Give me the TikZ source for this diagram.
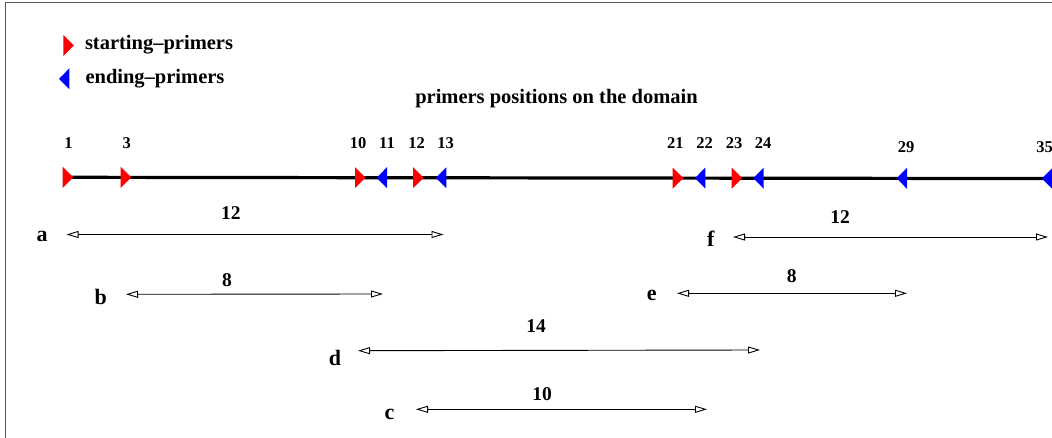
\documentclass[tikz,border=0pt]{standalone}
\usepackage{fontspec}
\setmainfont{Liberation Serif}
\usetikzlibrary{arrows.meta}
\definecolor{frame}{HTML}{555555}
\newcommand{\startmarker}[1]{\fill[startmark] (#1,{177.3+(#1-68)*0.00123-10.5}) -- ({#1+10.6},{177.3+(#1-68)*0.00123}) -- (#1,{177.3+(#1-68)*0.00123+10.5}) -- cycle;}
\newcommand{\stopmarker}[1]{\fill[endmark] ({#1+10.3},{177.3+(#1-68)*0.00123-10.5}) -- (#1,{177.3+(#1-68)*0.00123}) -- ({#1+10.3},{177.3+(#1-68)*0.00123+10.5}) -- cycle;}
\begin{document}
\begin{tikzpicture}[x=1pt,y=-1pt,
  every node/.style={inner sep=0pt,outer sep=0pt,font=\bfseries},
  legendtxt/.style={anchor=base west,font=\fontsize{20.5}{24}\selectfont\bfseries},
  titletxt/.style={anchor=base,font=\fontsize{20.5}{24}\selectfont\bfseries},
  posnum/.style={anchor=base,font=\fontsize{16.5}{19}\selectfont\bfseries},
  lennum/.style={anchor=base,font=\fontsize{19.5}{23}\selectfont\bfseries},
  letter/.style={anchor=base,font=\fontsize{22}{26}\selectfont\bfseries},
  domainline/.style={line width=3.2pt,black},
  dimarrow/.style={line width=0.9pt,black,{Triangle[open,length=12pt,width=7pt]}-{Triangle[open,length=12pt,width=7pt]}},
  startmark/.style={fill=red},
  endmark/.style={fill=blue}]
\useasboundingbox (0,0) rectangle (1052,438);
\clip (0,0) rectangle (1052,438);
\fill[white] (0,0) rectangle (1052,438);
\draw[frame,line width=1.4pt] (5.5,2.5) rectangle (1080,470);

% legend
\fill[startmark] (63.3,35) -- (74,45.5) -- (63.3,56) -- cycle;
\node[legendtxt] (lstart) at (85,50) {starting--primers};
\fill[endmark] (69.3,68.3) -- (59,79) -- (69.3,89.3) -- cycle;
\node[legendtxt] (lend) at (85.5,83.3) {ending--primers};

% title
\node[titletxt] (title) at (556.5,104) {primers positions on the domain};

% domain line
\coordinate (dstart) at (68,177.3);
\coordinate (dend) at (1062,178.6);
\draw[domainline] (dstart) -- (dend);

% markers
\startmarker{62.7}
\startmarker{120.7}
\startmarker{355}
\startmarker{413}
\startmarker{672.7}
\startmarker{731.7}
\stopmarker{376.7}
\stopmarker{436}
\stopmarker{695}
\stopmarker{753.3}
\stopmarker{896.7}
\stopmarker{1042}

% position labels
\node[posnum] (p1) at (68.5,148.3) {1};
\node[posnum] (p3) at (126.7,148.3) {3};
\node[posnum] (p10) at (358,148.3) {10};
\node[posnum] (p11) at (387,148.3) {11};
\node[posnum] (p12) at (416.7,148.3) {12};
\node[posnum] (p13) at (445.7,148.3) {13};
\node[posnum] (p21) at (675.3,148.3) {21};
\node[posnum] (p22) at (704.7,148.3) {22};
\node[posnum] (p23) at (734,148.3) {23};
\node[posnum] (p24) at (763,148.3) {24};
\node[posnum] (p29) at (906,152.3) {29};
\node[posnum] (p35) at (1044.7,152.3) {35};

% intervals
\coordinate (a1) at (66.5,234.5); \coordinate (a2) at (443.5,234.5);
\draw[dimarrow] (a1) -- (a2);
\node[letter] (la) at (42,242) {a};
\node[lennum] (na) at (230.8,219.3) {12};

\coordinate (b1) at (126,294.3); \coordinate (b2) at (383,294);
\draw[dimarrow] (b1) -- (b2);
\node[letter] (lb) at (100.7,305) {b};
\node[lennum] (nb) at (227,286.7) {8};

\coordinate (f1) at (733,237); \coordinate (f2) at (1048,237);
\draw[dimarrow] (f1) -- (f2);
\node[letter] (lf) at (710.8,247) {f};
\node[lennum] (nf) at (840,223.3) {12};

\coordinate (e1) at (677,293.3); \coordinate (e2) at (907,293.3);
\draw[dimarrow] (e1) -- (e2);
\node[letter] (le) at (651.7,300.7) {e};
\node[lennum] (ne) at (791.7,283) {8};

\coordinate (d1) at (358,350.7); \coordinate (d2) at (760,350);
\draw[dimarrow] (d1) -- (d2);
\node[letter] (ld) at (335,365) {d};
\node[lennum] (nd) at (536,332.7) {14};

\coordinate (c1) at (416,409.3); \coordinate (c2) at (707,409.3);
\draw[dimarrow] (c1) -- (c2);
\node[letter] (lc) at (389.5,419.3) {c};
\node[lennum] (nc) at (542.2,400.7) {10};
\end{tikzpicture}
\end{document}
